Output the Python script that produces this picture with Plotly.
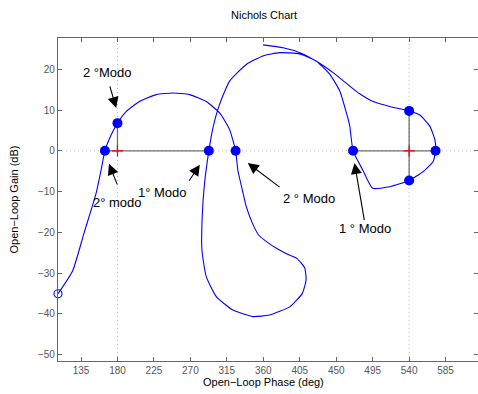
import plotly.graph_objects as go

# Open-loop frequency response (phase in deg, gain in dB)
phase = [106.6, 124.6, 139.0, 153.7, 160.0, 164.5, 172.0, 180.0, 191.0, 207.2, 227.8, 248.4, 269.0,
         289.6, 306.1, 318.4, 325.8, 328.7, 334.0, 339.0, 346.0, 354.0, 366.0, 379.4, 392.0, 401.4,
         411.2, 412.8, 408.2, 392.5, 367.8, 347.2, 322.5, 302.0, 289.6, 284.2, 284.6, 287.5, 292.8,
         297.8, 306.0, 318.4, 339.0, 359.6, 380.0, 405.0, 425.6, 442.4, 454.4, 462.6, 466.7, 470.8,
         483.0, 495.0, 516.0, 528.5, 540.0, 557.3, 569.7, 572.6, 571.8, 565.6, 553.2, 540.0, 516.0,
         495.5, 479.0, 466.7, 446.1, 425.6, 405.0, 384.3, 359.6]
gain_db = [-35.1, -29.5, -20.0, -10.4, -4.5, 0.0, 3.8, 6.8, 9.7, 12.1, 13.8, 14.2, 13.8,
           12.1, 9.3, 5.2, 0.0, -4.9, -9.5, -13.7, -17.5, -20.6, -22.6, -24.3, -25.6, -26.4,
           -28.8, -31.7, -35.0, -38.3, -40.3, -40.7, -39.1, -35.8, -30.9, -24.3, -16.1, -7.9, 0.0,
           5.6, 11.4, 17.1, 21.2, 23.3, 24.1, 23.8, 22.0, 18.7, 14.7, 9.3, 6.1, 0.0,
           -4.8, -9.2, -8.8, -8.1, -7.3, -5.1, -2.6, 0.0, 2.7, 6.0, 8.8, 9.8, 10.9,
           12.1, 14.0, 15.9, 19.2, 22.0, 24.1, 25.3, 26.0]

# Crossing / margin points
mark_phase = [164.5, 180.0, 292.8, 325.8, 470.8, 540.0, 572.6, 540.0]
mark_db = [0.0, 6.8, 0.0, 0.0, 0.0, 9.8, 0.0, -7.3]

# Critical points
crit_phase = [180, 540]
crit_db = [0, 0]

# Margin lines (gray, solid)
margin_lines = [
    ([164.5, 292.8], [0, 0]),
    ([470.8, 572.6], [0, 0]),
    ([180, 180], [0, 6.8]),
    ([540, 540], [-7.3, 9.8]),
]

# Annotations: (text, text_phase, text_db, tail_phase, tail_db, head_phase, head_db)
labels = [
    ("2 °Modo", 168.0, 19.2, 170.1, 16.2, 178.4, 10.5),
    ("2° modo", 180.4, -12.7, 180.4, -8.6, 169.5, -3.2),
    ("1° Modo", 236.1, -10.2, 267.2, -7.7, 281.7, -3.4),
    ("2 ° Modo", 416.2, -11.6, 382.0, -9.2, 340.8, -3.0),
    ("1 ° Modo", 485.9, -19.1, 485.0, -17.4, 472.6, -3.0),
]

x_ticks = [135, 180, 225, 270, 315, 360, 405, 450, 495, 540, 585]
y_ticks = [-50, -40, -30, -20, -10, 0, 10, 20]
x_range = [106.6, 625.0]
y_range = [-51.6, 27.7]

FONT = "Liberation Sans, Arial, sans-serif"
W, H = 478, 394
ML, MR, MT, MB = 58, 0, 38, 33
PW, PH = W - ML - MR, H - MT - MB

fig = go.Figure()

grid_col = "#bcbcbc"
for xv in crit_phase:
    fig.add_trace(go.Scatter(x=[xv, xv], y=y_range, mode="lines",
                             line=dict(color=grid_col, width=1, dash="1px,3px"), hoverinfo="skip"))
fig.add_trace(go.Scatter(x=x_range, y=[0, 0], mode="lines",
                         line=dict(color=grid_col, width=1, dash="1px,3px"), hoverinfo="skip"))

for xs, ys in margin_lines:
    fig.add_trace(go.Scatter(x=xs, y=ys, mode="lines",
                             line=dict(color="#6e6e6e", width=1.3), hoverinfo="skip"))

fig.add_trace(go.Scatter(x=phase, y=gain_db, mode="lines",
                         line=dict(color="#0000ff", width=1.1, shape="spline", smoothing=0.5)))

fig.add_trace(go.Scatter(x=[phase[0]], y=[gain_db[0]], mode="markers", cliponaxis=False,
                         marker=dict(symbol="circle-open", size=8, color="#0000ff",
                                     line=dict(width=1.1, color="#0000ff"))))

fig.add_trace(go.Scatter(x=crit_phase, y=crit_db, mode="markers",
                         marker=dict(symbol="cross-thin", size=8, color="red",
                                     line=dict(width=1.2, color="red"))))

fig.add_trace(go.Scatter(x=mark_phase, y=mark_db, mode="markers",
                         marker=dict(symbol="circle", size=10, color="#0000ff")))

annotations = []
for txt, tx, ty, ax, ay, hx, hy in labels:
    annotations.append(dict(x=tx, y=ty, xref="x", yref="y", text=txt, showarrow=False,
                            font=dict(family=FONT, size=13, color="black")))
    annotations.append(dict(x=hx, y=hy, xref="x", yref="y", ax=ax, ay=ay, axref="x", ayref="y",
                            text="", showarrow=True, arrowhead=2, arrowsize=2.0, arrowwidth=1.1,
                            arrowcolor="black", standoff=0, startstandoff=0))

# x-axis label
annotations.append(dict(x=(263.5 - ML) / PW, y=-(381.5 - (H - MB)) / PH, xref="paper", yref="paper",
                        text="Open−Loop Phase (deg)", showarrow=False, xanchor="center", yanchor="middle",
                        font=dict(family=FONT, size=11, color="black")))
# y-axis label
annotations.append(dict(x=-(ML - 13) / PW, y=0.5, xref="paper", yref="paper",
                        text="Open−Loop Gain (dB)", showarrow=False, textangle=-90,
                        xanchor="center", yanchor="middle",
                        font=dict(family=FONT, size=11, color="black")))
# title
annotations.append(dict(x=(264 - ML) / PW, y=1 + (MT - 15) / PH, xref="paper", yref="paper",
                        text="Nichols Chart", showarrow=False, xanchor="center", yanchor="middle",
                        font=dict(family=FONT, size=11, color="black")))

fig.update_layout(
    width=W, height=H,
    margin=dict(l=ML, r=MR, t=MT, b=MB, autoexpand=False),
    paper_bgcolor="white", plot_bgcolor="white",
    showlegend=False,
    font=dict(family=FONT, size=10, color="#555555"),
    xaxis=dict(range=x_range, tickvals=x_ticks, showgrid=False, zeroline=False, automargin=False,
               showline=True, mirror="allticks", linecolor="#666666", linewidth=1.2,
               ticks="inside", ticklen=4, tickcolor="#666666",
               tickfont=dict(family=FONT, size=10, color="#555555")),
    yaxis=dict(range=y_range, tickvals=y_ticks, showgrid=False, zeroline=False, automargin=False,
               showline=True, mirror="allticks", linecolor="#666666", linewidth=1.2,
               ticks="inside", ticklen=4, tickcolor="#666666",
               tickfont=dict(family=FONT, size=10, color="#555555")),
    annotations=annotations,
)

fig.write_html("out.html", config={"displayModeBar": False},
               post_script="document.body.style.margin='0';document.body.style.overflow='hidden';")
